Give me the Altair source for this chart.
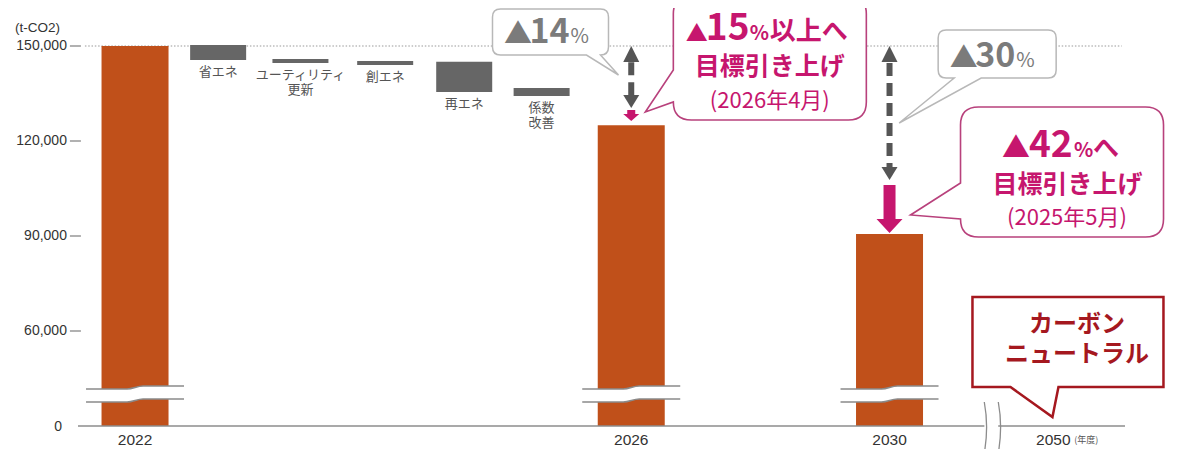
import altair as alt
import pandas as pd

# ---------------- data ----------------
years = ["2022", "2026", "2030"]
year_pos = [0.0, 6.09, 9.26]
emissions = [150000, 125000, 90600]

steps = ["省エネ", "ユーティリティ\n更新", "創エネ", "再エネ", "係数\n改善"]
step_pos = [1.02, 2.03, 3.07, 4.04, 4.99]
step_top = [150300, 145900, 145300, 145000, 136700]
step_bottom = [145600, 144600, 144000, 135500, 134200]

axis_years = ["2022", "2026", "2030", "2050"]
axis_year_pos = [0.0, 6.09, 9.26, 11.27]

y_ticks = [60000, 90000, 120000, 150000]
y_tick_labels = ["60,000", "90,000", "120,000", "150,000"]
baseline_value = 30000      # drawn as "0" (axis is broken below 60,000)
baseline_label = "0"
reference_value = 150000
unit_label = "(t-CO2)"

# dashed reduction arrows (2026, 2030)
arrow_pos = [6.09, 9.26]
arrow_shaft_top = [144900, 144600]
arrow_shaft_bottom = [133900, 111800]
arrow_end = [130400, 107700]
target_end = [126300, 90950]

# ---------------- style ----------------
W, H = 1057, 418
X_DOMAIN = [-0.7, 12.15]
Y_DOMAIN = [30000, 162000]
AXIS_POS = -0.664        # y-axis tick anchor (just left of the plot)
JP = "Noto Sans CJK JP"
LAT = "Liberation Sans"
ORANGE = "#C0501A"
GREYBAR = "#666666"
MAG = "#C6166E"
MAGLINE = "#B8417C"
RED = "#A5181F"
GREYTXT = "#7b7b7b"


def X(f="pos"):
    return alt.X(f"{f}:Q", scale=alt.Scale(domain=X_DOMAIN, nice=False, zero=False), axis=None)


def Y(f="val"):
    return alt.Y(f"{f}:Q", scale=alt.Scale(domain=Y_DOMAIN, nice=False, zero=False), axis=None)


layers = []

# dotted reference line at 150,000
layers.append(
    alt.Chart(pd.DataFrame({"pos": [-0.615], "pos2": [12.11], "val": [reference_value]}))
    .mark_rule(color="#999", strokeDash=[1.5, 1.8], strokeWidth=1)
    .encode(x=X(), x2="pos2:Q", y=Y())
)

# y axis (ticks + labels), drawn through the y scale
yt = pd.DataFrame({"pos": [AXIS_POS] * len(y_ticks), "val": y_ticks, "t": y_tick_labels})
layers.append(
    alt.Chart(yt)
    .mark_tick(orient="horizontal", size=11, thickness=1.3, color="#555", xOffset=-5.5)
    .encode(x=X(), y=Y())
)
layers.append(
    alt.Chart(yt)
    .mark_text(font=LAT, fontSize=14, color="#333", align="right", baseline="middle", dx=-14)
    .encode(x=X(), y=Y(), text="t:N")
)
layers.append(
    alt.Chart(pd.DataFrame({"pos": [AXIS_POS], "val": [baseline_value], "t": [baseline_label]}))
    .mark_text(font=LAT, fontSize=14, color="#333", align="right", baseline="middle", dx=-19, dy=1)
    .encode(x=X(), y=Y(), text="t:N")
)
layers.append(
    alt.Chart(pd.DataFrame({"pos": [AXIS_POS], "val": [reference_value]}))
    .mark_text(text=unit_label, font=LAT, fontSize=13.5, color="#333", align="left", baseline="middle",
               dx=-66, dy=-18)
    .encode(x=X(), y=Y())
)

# orange bars
layers.append(
    alt.Chart(pd.DataFrame({"pos": year_pos, "val": emissions, "year": years}))
    .mark_bar(size=67, color=ORANGE)
    .encode(x=X(), y=Y(), y2=alt.datum(baseline_value))
)

# grey waterfall steps
layers.append(
    alt.Chart(pd.DataFrame({"pos": step_pos, "val": step_top, "val2": step_bottom}))
    .mark_bar(size=56, color=GREYBAR)
    .encode(x=X(), y=Y(), y2="val2:Q")
)

# step labels
layers.append(
    alt.Chart(pd.DataFrame({"pos": step_pos, "val": step_bottom, "t": steps}))
    .mark_text(font=JP, fontSize=13, color="#555", baseline="top", dy=6, lineBreak="\n", lineHeight=15)
    .encode(x=X(), y=Y(), text="t:N")
)

# axis break on bars
band_path = "M-36,-6 L-8,-6 C-2,-6 2,-9 8,-9 L36,-9 L36,4 L8,4 C2,4 -2,7 -8,7 L-36,7 Z"
line_path = "M-49,-6 L-8,-6 C-2,-6 2,-9 8,-9 L49,-9 M-49,7 L-8,7 C-2,7 2,4 8,4 L49,4"
brk = pd.DataFrame({"pos": year_pos, "val": [39800] * 3})
layers.append(
    alt.Chart(brk).mark_point(shape=band_path, size=4, filled=True, fill="white", strokeWidth=0, opacity=1)
    .encode(x=X(), y=Y())
)
layers.append(
    alt.Chart(brk).mark_point(shape=line_path, size=4, filled=False, stroke="#8a8a8a", strokeWidth=1.5, opacity=1)
    .encode(x=X(), y=Y())
)

# baseline with break
layers.append(
    alt.Chart(pd.DataFrame({"pos": [-0.7, 10.594], "pos2": [10.424, 12.15], "val": [baseline_value] * 2}))
    .mark_rule(color="#8c8c8c", strokeWidth=1.5)
    .encode(x=X(), x2="pos2:Q", y=Y())
)
layers.append(
    alt.Chart(pd.DataFrame({"pos": [10.509], "val": [baseline_value]}))
    .mark_point(shape="M-7,-24 C-4,-8 -4,10 -7,27 M7,-24 C10,-8 10,10 7,27", size=4, filled=False,
                stroke="#8c8c8c", strokeWidth=1.3, opacity=1)
    .encode(x=X(), y=Y())
)

# x labels
layers.append(
    alt.Chart(pd.DataFrame({"pos": axis_year_pos, "val": [baseline_value] * 4, "t": axis_years}))
    .mark_text(font=LAT, fontSize=15.5, color="#333", baseline="middle", dy=14)
    .encode(x=X(), y=Y(), text="t:N")
)
layers.append(
    alt.Chart(pd.DataFrame({"pos": [axis_year_pos[3]], "val": [baseline_value]}))
    .mark_text(text="(年度)", font=JP, fontSize=9, color="#555", align="left", baseline="middle", dx=21, dy=14)
    .encode(x=X(), y=Y())
)

# grey dashed arrows
layers.append(
    alt.Chart(pd.DataFrame({"pos": arrow_pos, "val": arrow_shaft_top, "val2": arrow_shaft_bottom}))
    .mark_rule(color="#555", strokeWidth=6, strokeDash=[13, 7])
    .encode(x=X(), y=Y(), y2="val2:Q")
)
layers.append(
    alt.Chart(pd.DataFrame({"pos": arrow_pos, "val": [reference_value] * 2}))
    .mark_point(shape="M0,0 L8,16 L-8,16 Z", size=4, filled=True, color="#555", opacity=1)
    .encode(x=X(), y=Y())
)
layers.append(
    alt.Chart(pd.DataFrame({"pos": arrow_pos, "val": arrow_end}))
    .mark_point(shape="M0,0 L-8,-13 L8,-13 Z", size=4, filled=True, color="#555", opacity=1)
    .encode(x=X(), y=Y())
)
# magenta target arrows
layers.append(
    alt.Chart(pd.DataFrame({"pos": arrow_pos, "val": target_end,
                            "shp": ["M-4,-11 L4,-11 L4,-7 L8,-7 L0,0 L-8,-7 L-4,-7 Z",
                                    "M-6,-48 L6,-48 L6,-14 L13,-14 L0,0 L-13,-14 L-6,-14 Z"]}))
    .mark_point(size=4, filled=True, color=MAG, opacity=1)
    .encode(x=X(), y=Y(), shape=alt.Shape("shp:N", scale=None))
)

# callout bubbles (anchor = box centre)
bubbles = pd.DataFrame({
    "pos": [5.099, 10.581, 7.791, 11.377, 11.450],
    "val": [154420, 147470, 146210, 110210, 56530],
    "shp": [
        "M-50,-23 L50,-23 Q58,-23 58,-15 L58,15 Q58,23 50,23 L68,43 L36,23 L-50,23 Q-58,23 -58,15 L-58,-15 Q-58,-23 -50,-23 Z",
        "M-51,-24 L51,-24 Q59,-24 59,-16 L59,16 Q59,24 51,24 L-16,24 L-98,69 L-43,24 L-51,24 Q-59,24 -59,16 L-59,-16 Q-59,-24 -51,-24 Z",
        "M-78.5,-62 L78.5,-62 Q96.5,-62 96.5,-44 L96.5,44 Q96.5,62 78.5,62 L-78.5,62 Q-96.5,62 -96.5,44 L-124.5,54 L-96.5,12 L-96.5,-44 Q-96.5,-62 -78.5,-62 Z",
        "M-83.5,-65 L83.5,-65 Q101.5,-65 101.5,-47 L101.5,47 Q101.5,65 83.5,65 L-83.5,65 Q-101.5,65 -101.5,47 L-151.5,43 L-101.5,11 L-101.5,-47 Q-101.5,-65 -83.5,-65 Z",
        "M-95.5,-45 L95.5,-45 L95.5,45 L-9.5,45 L-15.5,75 L-57.5,45 L-95.5,45 Z",
    ],
    "stk": ["#b8b8b8", "#b8b8b8", MAGLINE, MAGLINE, RED],
    "sw": [1.5, 1.5, 1.6, 1.6, 2.5],
})
layers.append(
    alt.Chart(bubbles)
    .mark_point(size=4, filled=True, fill="white", opacity=1, strokeJoin="miter")
    .encode(x=X(), y=Y(), shape=alt.Shape("shp:N", scale=None),
            stroke=alt.Stroke("stk:N", scale=None), strokeWidth=alt.StrokeWidth("sw:Q", scale=None))
)

# bubble texts: (anchor index, text, dx, dy, size, weight, color, align, baseline)
A, C, B, D, E = range(5)
pieces = [
    (A, "▲", -32.5, 12, 28, "normal", GREYTXT, "center", "alphabetic"),
    (A, "14", -21, 11, 34, "bold", GREYTXT, "left", "alphabetic"),
    (A, "%", 20, 11, 20, "normal", GREYTXT, "left", "alphabetic"),
    (C, "▲", -33.5, 14, 28, "normal", GREYTXT, "center", "alphabetic"),
    (C, "30", -22, 13, 34, "bold", GREYTXT, "left", "alphabetic"),
    (C, "%", 19, 13, 20, "normal", GREYTXT, "left", "alphabetic"),
    (B, "▲", -73, -17, 22, "bold", MAG, "center", "alphabetic"),
    (B, "15", -64, -18, 37, "bold", MAG, "left", "alphabetic"),
    (B, "%", -20, -18, 20, "bold", MAG, "left", "alphabetic"),
    (B, "以上へ", 0, -18, 26, "bold", MAG, "left", "alphabetic"),
    (B, "目標引き上げ", 0, 9, 25, "bold", MAG, "center", "middle"),
    (B, "(2026年4月)", 0, 43, 22, "normal", MAG, "center", "middle"),
    (D, "▲", -46, -14, 28, "bold", MAG, "center", "alphabetic"),
    (D, "42", -33, -15, 37, "bold", MAG, "left", "alphabetic"),
    (D, "%", 12, -15, 20, "bold", MAG, "left", "alphabetic"),
    (D, "へ", 31, -15, 26, "bold", MAG, "left", "alphabetic"),
    (D, "目標引き上げ", 5.5, 13, 25, "bold", MAG, "center", "middle"),
    (D, "(2025年5月)", 5, 46, 22, "normal", MAG, "center", "middle"),
    (E, "カーボン", 9, -17, 24, "bold", RED, "center", "middle"),
    (E, "ニュートラル", 9, 13, 24, "bold", RED, "center", "middle"),
]
for idx, t, dx, dy, sz, wt, col, al, bl in pieces:
    row = pd.DataFrame({"pos": [bubbles["pos"][idx]], "val": [bubbles["val"][idx]]})
    layers.append(
        alt.Chart(row)
        .mark_text(text=t, dx=dx, dy=dy, font=JP, fontSize=sz, fontWeight=wt, color=col, align=al, baseline=bl)
        .encode(x=X(), y=Y())
    )

chart = (
    alt.layer(*layers)
    .properties(width=W, height=H, autosize=alt.AutoSizeParams(type="none"),
                padding={"left": 65, "top": 0, "right": 40, "bottom": 23}, background="white")
    .configure_view(stroke=None)
)

chart.save("out.html", embed_options={"renderer": "svg", "actions": False})
